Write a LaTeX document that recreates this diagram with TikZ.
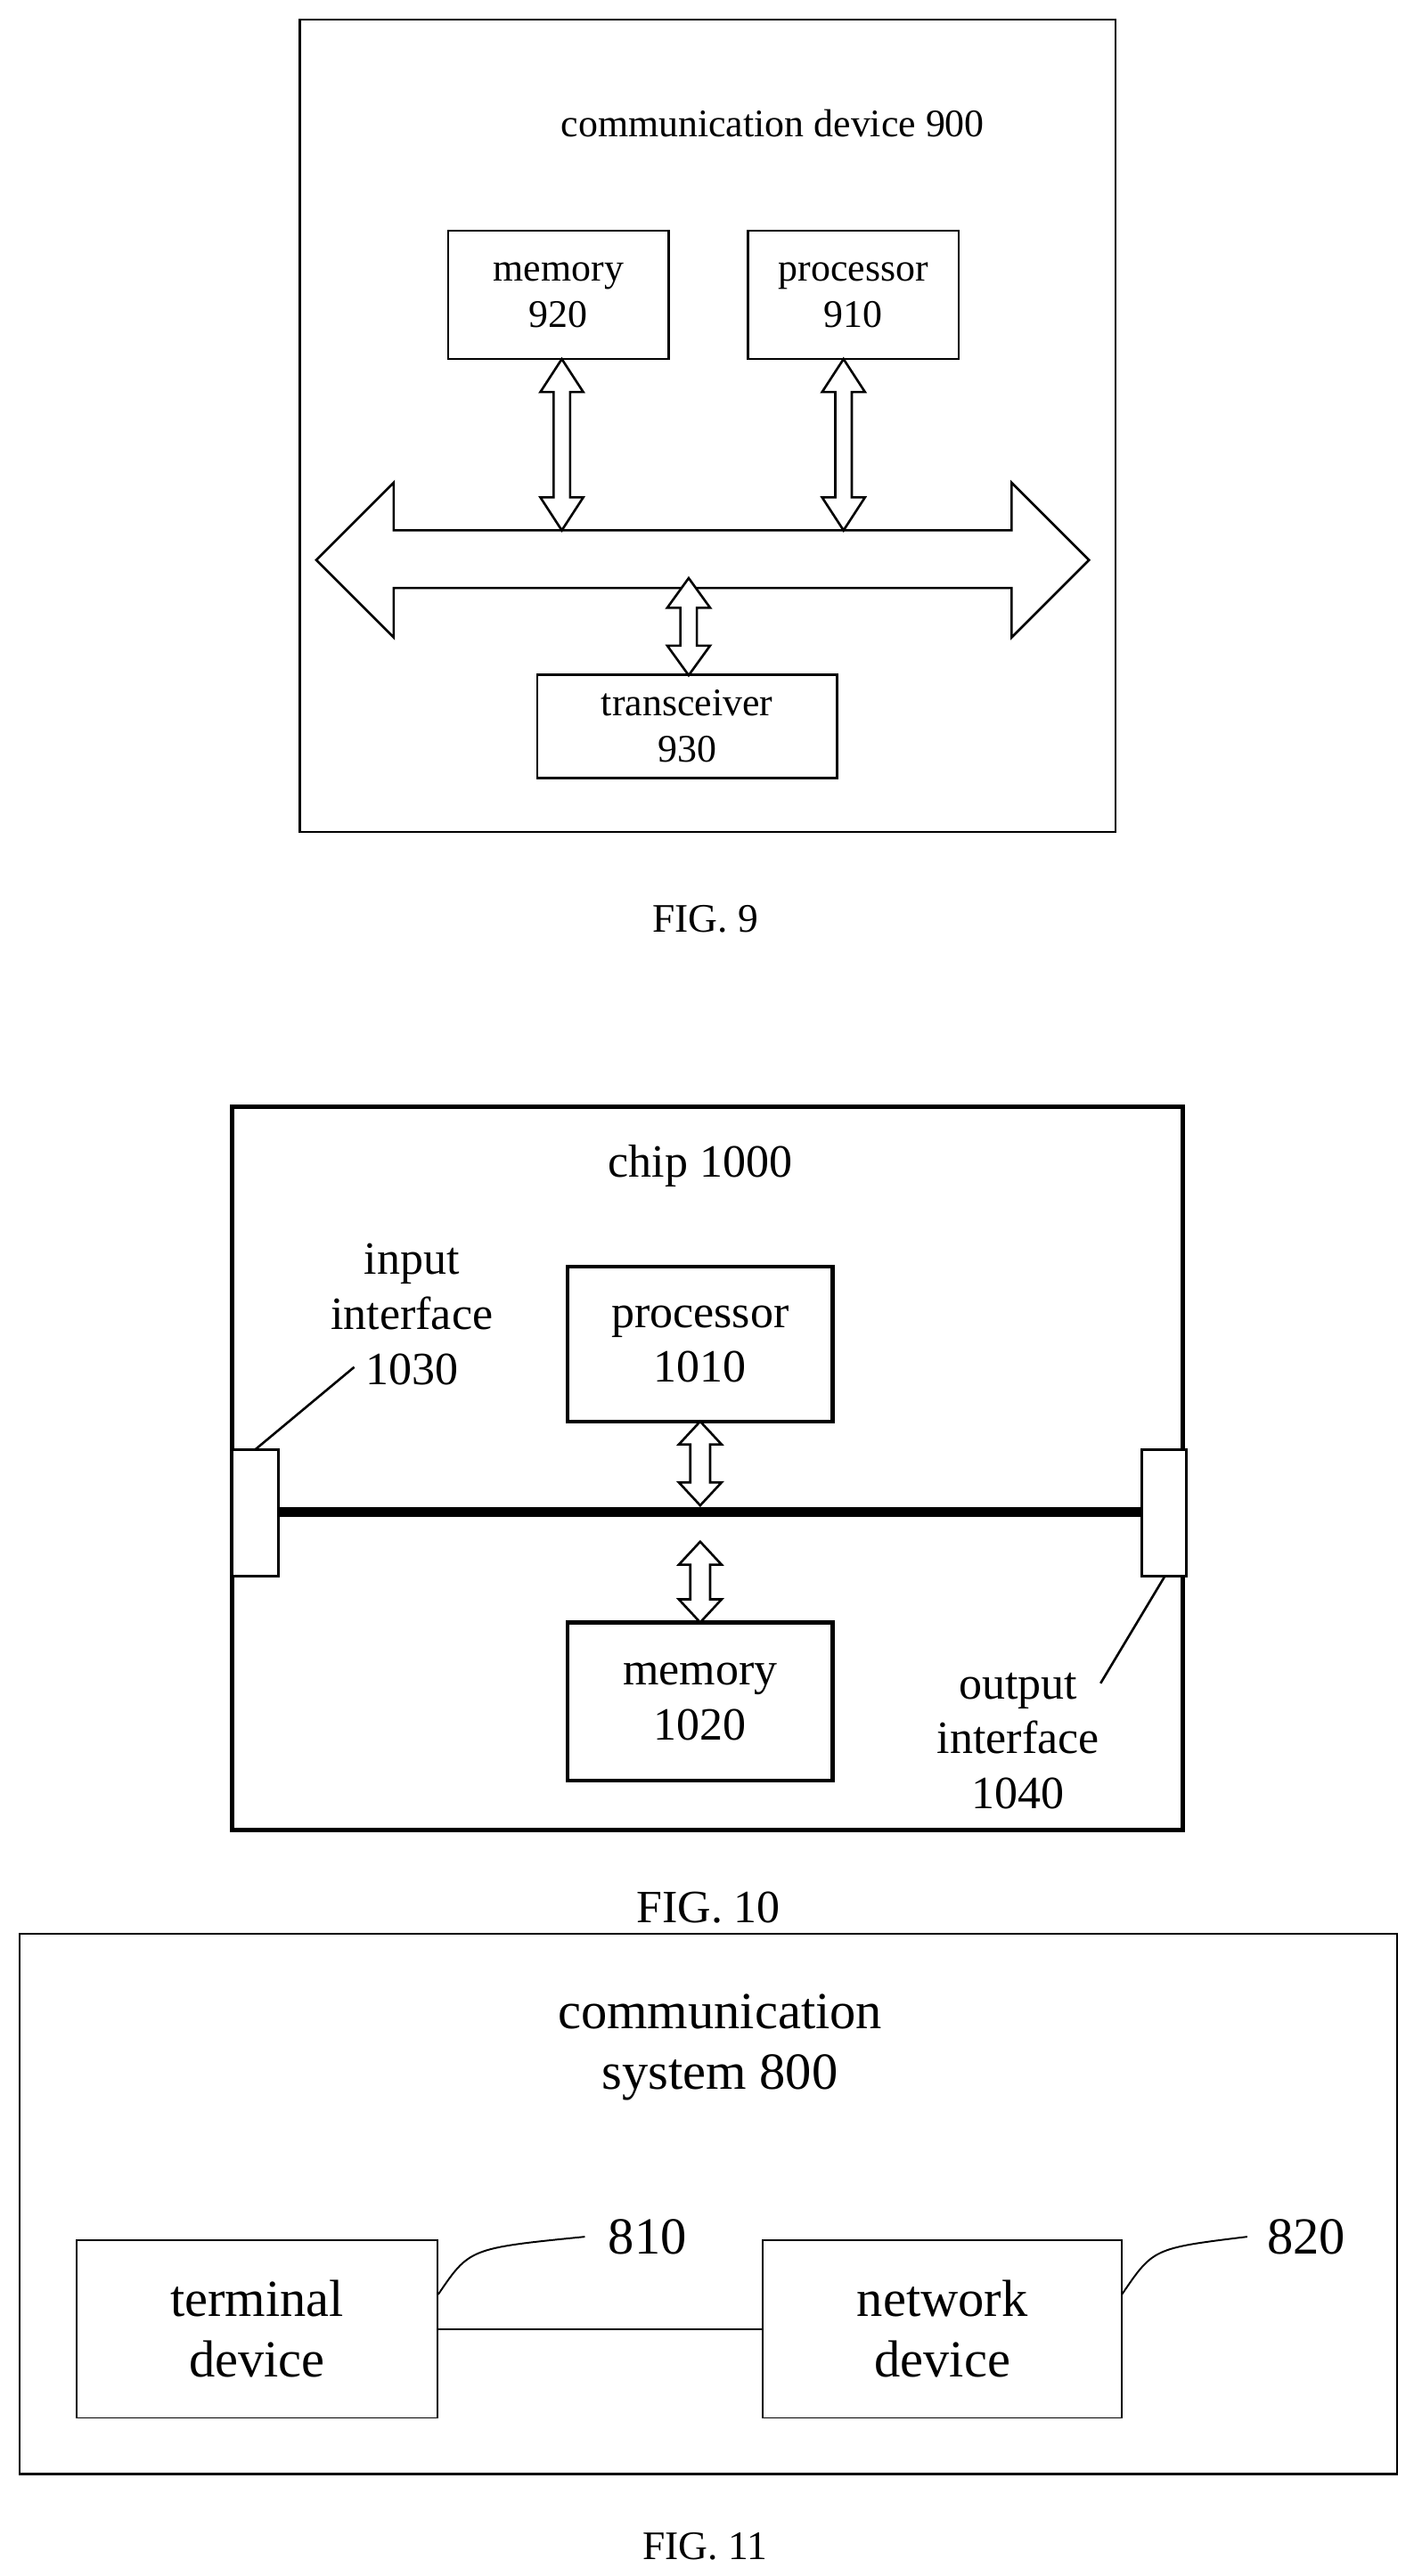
\documentclass[tikz,border=0pt]{standalone}
\usepackage{fontspec}
\setmainfont{Liberation Serif}
\begin{document}
\begin{tikzpicture}[x=0.02cm,y=-0.02cm]

    \tikzstyle{box}=[draw, line width=0.8pt, align=center, inner sep=0pt, font=\fontsize{13.5}{16}\selectfont]
    \tikzstyle{bbox}=[draw, line width=1.4pt, align=center, inner sep=0pt, font=\fontsize{16}{19}\selectfont]
    \tikzstyle{cbox}=[draw, line width=0.6pt, align=center, inner sep=0pt, font=\fontsize{18}{21}\selectfont]
    \tikzstyle{hollow}=[draw, fill=white, line width=0.8pt]

    % vertical hollow double arrow: x, top, bottom, half shaft, half head, head length
    \newcommand{\vdarrow}[6]{%
      \filldraw[hollow] (#1,#2) -- (#1+#5,#2+#6) -- (#1+#4,#2+#6) -- (#1+#4,#3-#6)
        -- (#1+#5,#3-#6) -- (#1,#3) -- (#1-#5,#3-#6) -- (#1-#4,#3-#6)
        -- (#1-#4,#2+#6) -- (#1-#5,#2+#6) -- cycle;}

    \useasboundingbox (0,0) rectangle (858,1564);

    % FIG. 9
    \draw[line width=0.8pt] (182,12) rectangle (677,505);
    \node[font=\fontsize{13.5}{16}\selectfont] (dev) at (469,75) {communication device 900};
    \node[box, minimum width=2.68cm, minimum height=1.56cm] (mem9) at (339,179) {memory\\920};
    \node[box, minimum width=2.56cm, minimum height=1.56cm] (proc9) at (518,179) {processor\\910};
    \node[box, minimum width=3.64cm, minimum height=1.26cm] (trx9) at (417,441) {transceiver\\930};
    \filldraw[hollow] (192,340) -- (239,293) -- (239,322) -- (614,322) -- (614,293)
        -- (661,340) -- (614,387) -- (614,357) -- (239,357) -- (239,387) -- cycle;
    \vdarrow{341}{218}{322}{5}{13}{20}
    \vdarrow{512}{218}{322}{5}{13}{20}
    \vdarrow{418}{351}{410}{5}{13}{18}
    \node[font=\fontsize{14}{17}\selectfont] (fig9) at (428,558) {FIG. 9};

    % FIG. 10
    \draw[line width=1.4pt] (141,672) rectangle (718,1111);
    \node[font=\fontsize{16}{19}\selectfont] (chip) at (425,708) {chip 1000};
    \node[bbox, minimum width=3.22cm, minimum height=1.88cm] (proc10) at (425,816) {processor\\1010};
    \node[bbox, minimum width=3.22cm, minimum height=1.92cm] (mem10) at (425,1033) {memory\\1020};
    \draw[line width=3.5pt] (169,918) -- (693,918);
    \draw[line width=0.8pt, fill=white] (141,880) rectangle (169,957);
    \draw[line width=0.8pt, fill=white] (693,880) rectangle (720,957);
    \node[align=center, font=\fontsize{16}{19}\selectfont] (inif) at (250,798) {input\\interface\\1030};
    \node[align=center, font=\fontsize{16}{19}\selectfont] (outif) at (618,1057) {output\\interface\\1040};
    \draw[line width=0.8pt] (155,880) -- (215,830);
    \draw[line width=0.8pt] (707,957) -- (668,1022);
    \vdarrow{425}{863}{914}{6}{13}{14}
    \vdarrow{425}{936}{985}{6}{13}{14}
    \node[font=\fontsize{16}{19}\selectfont] (fig10) at (430,1158) {FIG. 10};

    % FIG. 11
    \draw[line width=0.8pt] (12,1174) rectangle (848,1502);
    \node[align=center, font=\fontsize{18}{21}\selectfont] (sys) at (437,1243) {communication\\system 800};
    \node[cbox, minimum width=4.38cm, minimum height=2.16cm] (term) at (156,1414) {terminal\\device};
    \node[cbox, minimum width=4.36cm, minimum height=2.16cm] (net) at (572,1414) {network\\device};
    \draw[line width=0.6pt] (term) -- (net);
    \node[font=\fontsize{18}{21}\selectfont] (l810) at (393,1358) {810};
    \node[font=\fontsize{18}{21}\selectfont] (l820) at (793,1358) {820};
    \draw[line width=0.6pt] (266,1393) .. controls (285,1365) .. (355,1358);
    \draw[line width=0.6pt] (681,1393) .. controls (700,1365) .. (757,1358);
    \node[font=\fontsize{14}{17}\selectfont] (fig11) at (428,1546) {FIG. 11};

\end{tikzpicture}
\end{document}
